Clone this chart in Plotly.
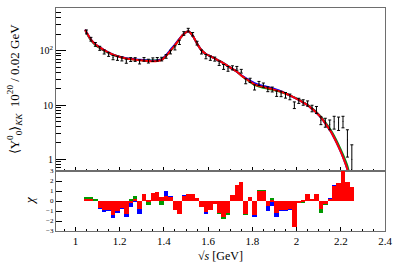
import plotly.graph_objects as go
from plotly.subplots import make_subplots

# ---------------- data ----------------
bins = [1.05, 1.07, 1.09, 1.11, 1.13, 1.15, 1.17, 1.19, 1.21, 1.23, 1.25, 1.27, 1.29, 1.31, 1.33,
        1.35, 1.37, 1.39, 1.41, 1.43, 1.45, 1.47, 1.49, 1.51, 1.53, 1.55, 1.57, 1.59, 1.61, 1.63,
        1.65, 1.67, 1.69, 1.71, 1.73, 1.75, 1.77, 1.79, 1.81, 1.83, 1.85, 1.87, 1.89, 1.91, 1.93,
        1.95, 1.97, 1.99, 2.01, 2.03, 2.05, 2.07, 2.09, 2.11, 2.13, 2.15, 2.17, 2.19, 2.21, 2.23, 2.25]

data_vals = [222, 163, 131, 111, 95, 86, 75, 72.7, 70.8, 64.5, 68.9, 69, 62.4, 69.4, 64.5,
             68.6, 69.7, 70.2, 78.7, 94.6, 113, 143, 208, 240, 201, 138, 95, 78, 73, 70.3,
             59, 50.5, 46.5, 48.5, 47.5, 42, 27.5, 28.5, 21.2, 25, 23.3, 19.6, 19.4, 16.3, 16.1,
             15.2, 14.2, 10, 12.0, 11.2, 10.7, 8.7, 8.2, 5.2, 4.8, 4.4, 4.9, 4.7, 5.0, 2.3, 1.0]

data_err = [18, 13, 10.5, 9.5, 8.2, 7.4, 6.8, 6.3, 6, 5.8, 5.6, 5.4, 5.4, 5.3, 5.2,
            5.2, 5.2, 5.4, 6.1, 7.4, 9.8, 12.8, 16, 18, 15, 11, 8, 7, 6.5, 6,
            5.5, 5.2, 4.7, 4.2, 3.8, 3.3, 2.9, 2.6, 2.3, 2.2, 2.1, 2.0, 2.0, 1.9, 1.85,
            1.8, 1.7, 1.4, 1.3, 1.3, 1.2, 1.2, 1.2, 0.85, 0.9, 0.9, 1.3, 1.3, 1.2, 1.2, 0.85]

fit_x = [1.044, 1.05, 1.07, 1.09, 1.11, 1.13, 1.15, 1.17, 1.19, 1.21, 1.23, 1.25, 1.27, 1.29, 1.31,
         1.33, 1.35, 1.37, 1.39, 1.41, 1.43, 1.45, 1.47, 1.49, 1.51, 1.53, 1.55, 1.57, 1.59, 1.61,
         1.63, 1.65, 1.67, 1.69, 1.71, 1.73, 1.75, 1.77, 1.79, 1.81, 1.83, 1.85, 1.87, 1.89, 1.91,
         1.93, 1.95, 1.97, 1.99, 2.01, 2.03, 2.05, 2.07, 2.09, 2.11, 2.13, 2.15, 2.17, 2.19, 2.21,
         2.23, 2.24, 2.246]

fit_red = [245, 218, 160, 131, 115, 102, 92, 84.5, 79, 75, 72, 70, 68, 66.5, 65.5,
           64.5, 64, 64.5, 67.5, 80, 100, 126, 162, 202, 228, 190, 135, 102, 87, 79,
           72, 65, 58.5, 52, 46, 41, 35, 30.5, 27, 24, 22.5, 21.4, 20.5, 19.6, 18.6,
           17.5, 16.3, 15, 13.7, 12.4, 11.1, 9.9, 8.5, 7.2, 5.9, 4.6, 3.5, 2.5, 1.7, 1.1,
           0.65, 0.4, 0.15]

fit_green = [240, 214, 156, 127.5, 112, 100, 91, 84, 79, 75, 72, 70, 68.5, 67.3, 66.6,
             66, 66, 67, 70, 81, 100, 126, 162, 202, 228, 190, 135, 102, 87, 79,
             72, 65, 58.5, 52, 46, 41, 35, 30.5, 26.6, 23.4, 21.8, 20.8, 20.0, 19.2, 18.3,
             17.4, 16.3, 15.05, 13.8, 12.55, 11.25, 10.05, 8.7, 7.4, 6.1, 4.8, 3.7, 2.7, 1.85, 1.22,
             0.75, 0.48, 0.18]

fit_blue = [245, 218, 160, 131, 115, 102, 92, 84.5, 79.3, 75.6, 73, 71.2, 69.5, 68, 67,
            66, 65.3, 65.8, 69, 83, 104, 130, 165, 203, 228, 190, 135, 102, 87, 79,
            72, 65, 58.5, 52, 46, 41, 35.3, 31.3, 28, 25.2, 23.5, 22.4, 21.4, 20.3, 19.1,
            17.8, 16.4, 15, 13.7, 12.4, 11.1, 9.9, 8.5, 7.2, 5.9, 4.6, 3.5, 2.5, 1.7, 1.1,
            0.65, 0.4, 0.15]

chi_red = [0.2, 0.2, 0.0, -0.75, -0.95, -0.9, -1.45, -1.0, -0.7, -1.3, -0.2, 0.2, -0.85, 0.65, -0.1,
           0.8, 0.9, 0.4, 0.45, 0.35, -0.9, -1.35, 0.5, 0.65, 0.75, 0.25, -0.6, -1.15, -0.9, -0.3,
           -1.2, -1.6, -1.25, 0.6, 1.65, 1.95, -1.3, 0.4, -1.4, 1.0, 1.0, -0.5, -0.1, -1.2, -0.9,
           -0.9, -0.85, -2.65, -0.25, -0.1, 0.65, 0.17, 0.65, -0.85, -0.3, 0.17, 1.55, 1.8, 3.5, 1.9, 1.4]

chi_blue = [0.2, 0.2, 0.0, -0.85, -1.1, -1.0, -1.75, -1.25, -0.85, -1.65, -0.6, -0.1, -1.3, 0.6, -0.45,
            0.8, 0.9, 0.4, 1.0, 0.45, -0.9, -1.35, 0.55, 0.7, 0.75, 0.25, -0.65, -1.3, -0.95, -0.3,
            -1.2, -1.6, -1.25, 0.6, 1.65, 1.95, -1.3, 0.4, -1.65, 1.0, 1.0, -1.0, -0.5, -1.6, -1.0,
            -1.0, -0.9, -2.65, -0.25, -0.1, 0.7, 0.2, 0.7, -0.85, -0.3, 0.25, 1.6, 1.85, 3.5, 1.9, 1.4]

chi_green = [0.35, 0.35, 0.12, -0.75, -0.95, -0.9, -1.45, -1.0, -0.7, -1.3, 0.15, 0.5, -0.85, 0.65, -0.4,
             0.8, 0.9, -0.4, 0.45, 0.35, -0.9, -1.35, 0.5, 0.65, 0.75, 0.25, -0.6, -1.15, -0.9, -0.3,
             -1.35, -1.8, -1.4, 0.6, 1.65, 1.95, -1.45, 0.4, -1.4, 1.1, 1.1, -0.5, 0.25, -1.2, -0.9,
             -0.9, -0.85, -2.65, -0.25, -0.2, 0.65, 0.17, 0.65, -1.2, -0.45, 0.17, 1.55, 1.8, 3.5, 1.9, 1.4]

y_tickvals = [1, 10, 100]
y_ticktext = ["1", "10", "10<sup>2</sup>"]
y_minor = [0.7, 0.8, 0.9, 2, 3, 4, 5, 6, 7, 8, 9, 20, 30, 40, 50, 60, 70, 80, 90, 200, 300, 400, 500, 600]
chi_ticks = [-3, -2, -1, 0, 1, 2, 3]

RED = "#ff0000"
BLUE = "#0000ff"
GREEN = "#009a00"
FONT = "Liberation Serif"
FRAME = "#6e6e6e"
LW = 1.2

fig = make_subplots(rows=2, cols=1, shared_xaxes=True, vertical_spacing=0,
                    row_heights=[0.731, 0.269])

# top panel curves
for yv, col in [(fit_green, GREEN), (fit_blue, BLUE), (fit_red, RED)]:
    fig.add_trace(go.Scatter(x=fit_x, y=yv, mode="lines",
                             line=dict(color=col, width=2, shape="spline", smoothing=0.8),
                             showlegend=False, hoverinfo="skip"), row=1, col=1)

fig.add_trace(go.Scatter(x=bins, y=data_vals, mode="markers",
                         marker=dict(size=1, color="black"),
                         error_y=dict(type="data", array=data_err, color="black",
                                      thickness=1, width=1.5),
                         showlegend=False), row=1, col=1)

# residual panel
for yv, col in [(chi_blue, BLUE), (chi_green, GREEN), (chi_red, RED)]:
    fig.add_trace(go.Bar(x=bins, y=yv, width=0.02, marker=dict(color=col, line=dict(width=0)),
                         showlegend=False), row=2, col=1)

fig.update_layout(
    width=407, height=266,
    margin=dict(l=56, r=22, t=8, b=35, autoexpand=False),
    paper_bgcolor="white", plot_bgcolor="white",
    barmode="overlay", bargap=0,
    font=dict(family=FONT, size=10, color="black"),
    showlegend=False,
)

common_x = dict(range=[0.912, 2.4], showgrid=False, zeroline=False, showline=True,
                linecolor=FRAME, linewidth=LW, mirror=True, automargin=False,
                ticks="inside", dtick=0.2, tick0=1.0, ticklen=4, tickcolor="black", tickwidth=1,
                minor=dict(ticks="inside", dtick=0.05, ticklen=2, tickcolor="black", tickwidth=1))

fig.update_xaxes(**common_x, showticklabels=False, row=1, col=1)
fig.update_xaxes(**common_x, showticklabels=True, tickfont=dict(size=11, family=FONT),
                 row=2, col=1)

fig.update_yaxes(type="log", range=[-0.215, 2.786], showgrid=False, zeroline=False,
                 showline=True, linecolor=FRAME, linewidth=LW, mirror=True, automargin=False,
                 ticks="inside", tickvals=y_tickvals, ticktext=y_ticktext, ticklen=10,
                 tickcolor="black", tickwidth=1, tickfont=dict(size=10, family=FONT),
                 minor=dict(tickvals=y_minor, ticks="inside", ticklen=5, tickcolor="black", tickwidth=1),
                 row=1, col=1)

fig.update_yaxes(range=[-3, 3], showgrid=False, zeroline=False,
                 showline=True, linecolor=FRAME, linewidth=LW, mirror=True, automargin=False,
                 ticks="inside", tickvals=chi_ticks, ticklen=6,
                 tickcolor="black", tickwidth=1, tickfont=dict(size=7, family=FONT),
                 row=2, col=1)

fig.add_annotation(xref="paper", yref="paper", x=-0.125, y=0.635,
                   text="⟨Y<sup>0</sup><sub>0</sub>⟩<sub><i>KK</i></sub>  10<sup>20</sup> / 0.02 GeV",
                   textangle=-90, showarrow=False, font=dict(size=13, family=FONT),
                   xanchor="center", yanchor="middle")
fig.add_annotation(xref="paper", yref="paper", x=-0.079, y=0.135,
                   text="<i>χ</i>", textangle=-90, showarrow=False,
                   font=dict(size=13, family=FONT), xanchor="center", yanchor="middle")
fig.add_annotation(xref="paper", yref="paper", x=0.5, y=-0.11,
                   text="√<i>s</i> [GeV]", showarrow=False,
                   font=dict(size=12, family=FONT), xanchor="center", yanchor="middle")

fig.write_html("out.html", config={"displayModeBar": False},
               post_script="document.body.style.margin='0px';document.body.style.padding='0px';")
